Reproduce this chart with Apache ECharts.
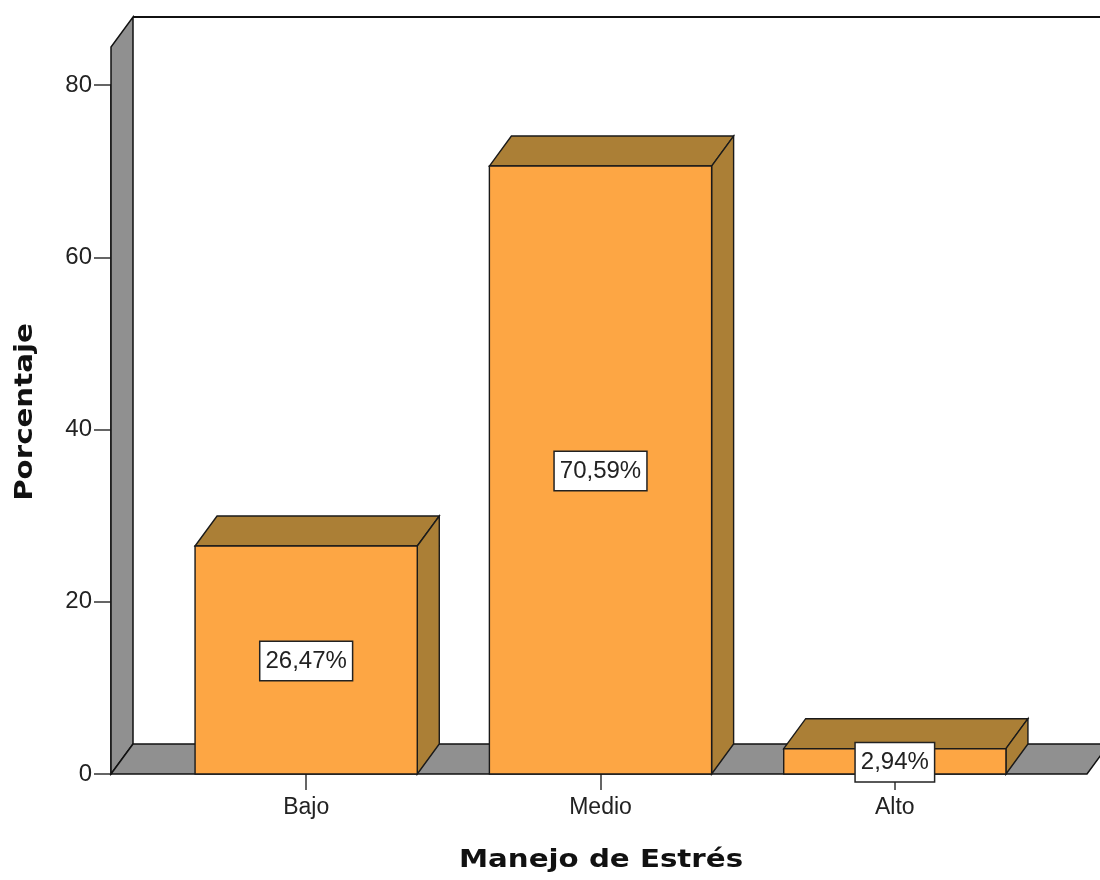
<!DOCTYPE html>
<html>
<head>
<meta charset="utf-8">
<script src="https://cdn.jsdelivr.net/npm/echarts@6/dist/echarts.min.js"></script>
<style>
  html, body { margin: 0; padding: 0; background: #fff; }
  #main { width: 1100px; height: 880px; }
</style>
</head>
<body>
<div id="main"></div>
<script>
// datos
const categorias = ['Bajo', 'Medio', 'Alto']
const porcentajes = [26.47, 70.59, 2.94]
const yTicks = [0, 20, 40, 60, 80]

const DX = 22   // profundidad 3D
const DY = 30
const Y_OFFSET = 48
const ORANGE = '#fda644'
const BROWN = '#ab7f36'
const GRAY = '#909090'

const fmt = v => v.toFixed(2).replace('.', ',') + '%'

const myChart = echarts.init(document.getElementById('main'))

// paredes y suelo
const renderFrame = (params, api) => {
    const cs = params.coordSys
    const xl = cs.x - Y_OFFSET
    const yb = cs.y + cs.height
    const yt = cs.y - 38
    const xr = cs.x + cs.width + 45
    const st = { stroke: '#111', lineWidth: 1.5 }
    return {
        type: 'group',
        children: [
            { type: 'polygon', shape: { points: [[xl, yb], [xl, yt], [xl + DX, yt - DY], [xl + DX, yb - DY]] },
              style: Object.assign({ fill: GRAY }, st) },
            { type: 'polygon', shape: { points: [[xl, yb], [xl + DX, yb - DY], [xr + DX, yb - DY], [xr, yb]] },
              style: Object.assign({ fill: GRAY }, st) },
            { type: 'line', shape: { x1: xl + DX, y1: yt - DY, x2: 1120, y2: yt - DY },
              style: { stroke: '#111', lineWidth: 2 } }
        ]
    }
}

const renderBar = (params, api) => {
    const idx = api.value(0)
    const val = api.value(1)
    const top = api.coord([idx, val])
    const base = api.coord([idx, 0])
    const w = api.size([1, 0])[0] * 0.755
    const x0 = top[0] - w / 2
    const x1 = top[0] + w / 2
    const yt = top[1]
    const yb = base[1]
    const st = { stroke: '#1a1a1a', lineWidth: 1.4 }
    return {
        type: 'group',
        children: [
            { type: 'polygon', shape: { points: [[x0, yt], [x0 + DX, yt - DY], [x1 + DX, yt - DY], [x1, yt]] },
              style: Object.assign({ fill: BROWN }, st) },
            { type: 'polygon', shape: { points: [[x1, yt], [x1 + DX, yt - DY], [x1 + DX, yb - DY], [x1, yb]] },
              style: Object.assign({ fill: BROWN }, st) },
            { type: 'rect', shape: { x: x0, y: yt, width: w, height: yb - yt },
              style: Object.assign({ fill: ORANGE }, st) },
            { type: 'text', x: top[0], y: (yt + yb) / 2 + 1,
              style: {
                  text: fmt(val),
                  align: 'center',
                  verticalAlign: 'middle',
                  font: '24px "Liberation Sans", Arial, sans-serif',
                  fill: '#222',
                  backgroundColor: '#fff',
                  borderColor: '#222',
                  borderWidth: 1.5,
                  padding: [8, 5, 6, 5]
              } }
        ]
    }
}

myChart.setOption({
    animation: false,
    grid: { left: 159, right: 58, top: 85, bottom: 106, outerBoundsMode: 'none' },
    xAxis: {
        type: 'category',
        data: categorias,
        axisLine: { show: false },
        axisTick: { show: true, alignWithLabel: true, length: 16, lineStyle: { color: '#333', width: 1.5 } },
        axisLabel: { margin: 22, fontSize: 23, color: '#222', fontFamily: '"Liberation Sans", Arial, sans-serif' },
        splitLine: { show: false }
    },
    yAxis: {
        type: 'value',
        min: yTicks[0],
        max: yTicks[yTicks.length - 1],
        interval: 20,
        offset: Y_OFFSET,
        axisLine: { show: true, lineStyle: { color: '#111', width: 1.5 } },
        axisTick: { show: true, length: 17, lineStyle: { color: '#333', width: 1.5 } },
        axisLabel: { margin: 19, fontSize: 24, color: '#222', fontFamily: '"Liberation Sans", Arial, sans-serif' },
        splitLine: { show: false }
    },
    graphic: [
        { type: 'text', x: 601, y: 861, scaleX: 1.22,
          style: { text: 'Manejo de Estrés', align: 'center', verticalAlign: 'middle',
                   font: 'bold 24px "DejaVu Sans", sans-serif', fill: '#111' } },
        { type: 'text', x: 26, y: 412, rotation: Math.PI / 2, scaleX: 1.22,
          style: { text: 'Porcentaje', align: 'center', verticalAlign: 'middle',
                   font: 'bold 24px "DejaVu Sans", sans-serif', fill: '#111' } }
    ],
    series: [
        {
            type: 'custom',
            name: 'frame',
            clip: false,
            z: 1,
            silent: true,
            renderItem: renderFrame,
            data: [[0, 0]]
        },
        {
            type: 'custom',
            name: 'Porcentaje',
            clip: false,
            z: 3,
            renderItem: renderBar,
            encode: { x: 0, y: 1 },
            data: porcentajes.map((v, i) => [i, v])
        }
    ]
})
</script>
</body>
</html>
